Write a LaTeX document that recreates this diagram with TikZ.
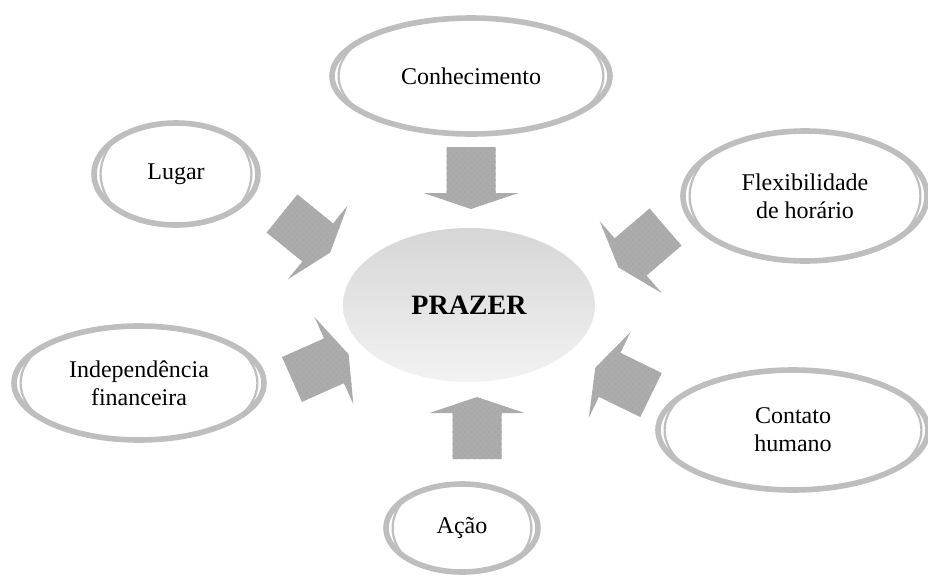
\documentclass[tikz,border=0pt]{standalone}
\usepackage{fontspec}
\setmainfont{Liberation Serif}
\usetikzlibrary{shapes.geometric,calc,patterns}
\definecolor{ringgray}{RGB}{190,190,190}
\definecolor{arrowgray}{RGB}{172,172,172}

\begin{document}
\begin{tikzpicture}[x=0.5pt, y=-0.5pt,
    bubble/.style={ellipse, draw=ringgray, line width=2.8pt, fill=white, inner sep=0pt, align=center, font=\fontsize{12}{14}\selectfont,
        path picture={\draw[ringgray, line width=1.1pt] let \p1=(path picture bounding box.north east), \p2=(path picture bounding box.center) in (\p2) ellipse ({\x1-\x2-3.3pt} and {\y2-\y1-3.3pt});}},
    core/.style={ellipse, inner sep=0pt, top color=gray!32, bottom color=gray!10, font=\fontsize{14}{16}\selectfont\bfseries},
    blockfill/.style={fill=arrowgray, postaction={pattern=crosshatch dots, pattern color=gray!70}},
    blockarrow/.pic={\path[blockfill] (0,-24.5) -- (46,-24.5) -- (46,-47.5) -- (62,0) -- (46,47.5) -- (46,24.5) -- (0,24.5) -- cycle;}]
    \useasboundingbox (0,0) rectangle (928,585);

    % centre
    \node [core, minimum width=126pt, minimum height=77pt] (prazer) at (469,305) {PRAZER};

    % outer items
    \node [bubble, minimum width=139pt, minimum height=58pt] (conhecimento) at (471,76) {Conhecimento};
    \node [bubble, minimum width=82pt, minimum height=51pt] (lugar) at (176,174) {Lugar};
    \node [bubble, minimum width=122pt, minimum height=65pt] (flex) at (805,196) {Flexibilidade\\de hor\'ario};
    \node [bubble, minimum width=125pt, minimum height=57pt] (indep) at (139,383) {Independ\^encia\\financeira};
    \node [bubble, minimum width=135pt, minimum height=60pt] (contato) at (793,430) {Contato\\humano};
    \node [bubble, minimum width=76pt, minimum height=44pt] (acao) at (462,528) {A\c{c}\~ao};

    % arrows towards the centre
    \pic (arrowtop) [rotate=-90] at (471,147) {blockarrow};
    \pic (arrowbottom) [rotate=90] at (477,459) {blockarrow};
    \pic (arrowlugar) [rotate=-39] at (282,213.5) {blockarrow};
    \pic (arrowflex) [rotate=-139.3] at (665.5,227) {blockarrow};
    \pic (arrowindep) [rotate=24] at (292,379.5) {blockarrow};
    \pic (arrowcontato) [rotate=154] at (651,395) {blockarrow};
\end{tikzpicture}
\end{document}
